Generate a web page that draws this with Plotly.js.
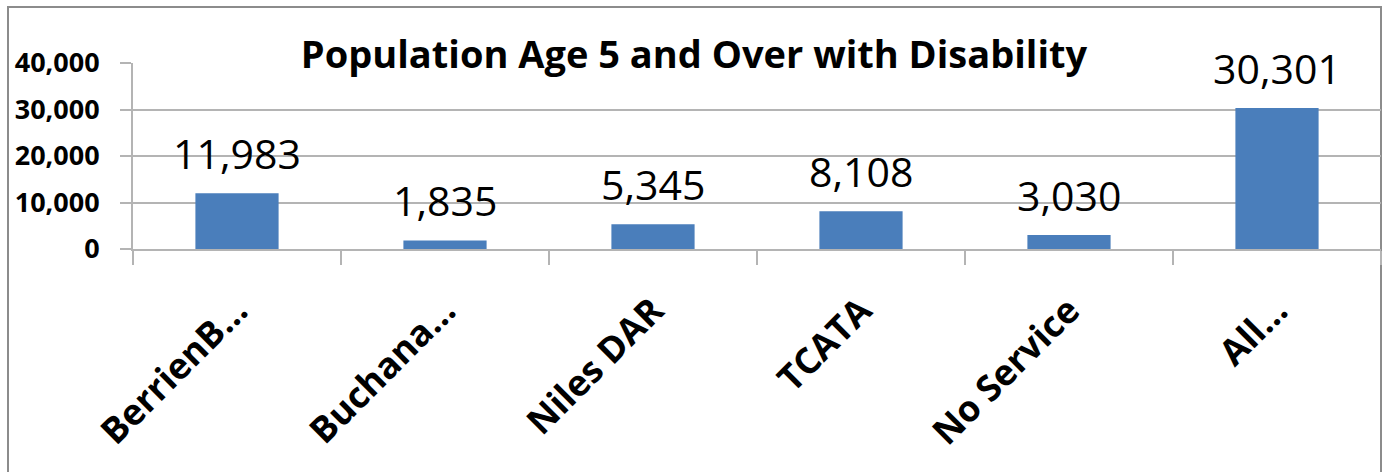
<!DOCTYPE html>
<html>
<head>
<meta charset="utf-8">
<script src="https://cdn.plot.ly/plotly-3.0.1.min.js"></script>
<style>
html,body{margin:0;padding:0;background:#fff;}
#chart{width:1388px;height:472px;}
</style>
</head>
<body>
<div id="chart"></div>
<script>
const categories = ["BerrienB\u2026", "Buchana\u2026", "Niles DAR", "TCATA", "No Service", "All\u2026"];
const values = [11983, 1835, 5345, 8108, 3030, 30301];
const valueLabels = ["11,983", "1,835", "5,345", "8,108", "3,030", "30,301"];
const yTickVals = [0, 10000, 20000, 30000, 40000];
const yTickText = ["0", "10,000", "20,000", "30,000", "40,000"];
const titleText = "Population Age 5 and Over with Disability";

const FONT = "Open Sans, Arial, sans-serif";
const GRID = "#b4b4b4";

const trace = {
  type: "bar",
  x: categories,
  y: values,
  marker: {color: "#4a7ebb"},
  hoverinfo: "x+y",
  showlegend: false
};

const annotations = categories.map((c, i) => ({
  x: c, y: values[i], xref: "x", yref: "y",
  text: valueLabels[i],
  showarrow: false,
  yanchor: "bottom",
  yshift: 10,
  font: {family: FONT, size: 41, color: "#000"}
}));

const layout = {
  width: 1388, height: 472,
  margin: {l: 133, r: 7, t: 63, b: 223},
  paper_bgcolor: "#fff",
  plot_bgcolor: "#fff",
  bargap: 0.6,
  title: {
    text: titleText,
    font: {family: FONT, size: 38, color: "#000", weight: "bold"},
    xref: "container", x: 0.5, xanchor: "center",
    yref: "container", y: 1 - 55/472, yanchor: "middle"
  },
  xaxis: {
    type: "category",
    showgrid: false,
    showline: true, linecolor: GRID, linewidth: 2,
    ticks: "outside", tickson: "boundaries", ticklen: 14, tickcolor: GRID, tickwidth: 2,
    tickangle: -45,
    ticklabelstandoff: 24,
    tickfont: {family: FONT, size: 36, color: "#000", weight: "bold"},
    fixedrange: true
  },
  yaxis: {
    range: [0, 40000],
    tickvals: yTickVals, ticktext: yTickText,
    showgrid: true, gridcolor: GRID, gridwidth: 2,
    zeroline: false,
    showline: true, linecolor: GRID, linewidth: 2,
    ticks: "outside", ticklen: 11, tickcolor: GRID, tickwidth: 2,
    ticklabelstandoff: 15,
    tickfont: {family: FONT, size: 27, color: "#000", weight: "bold"},
    fixedrange: true
  },
  annotations: annotations,
  shapes: [{
    type: "rect", xref: "paper", yref: "paper",
    x0: (8 - 133) / 1248, x1: (1381 - 133) / 1248,
    y0: (249 - 490) / 186, y1: (249 - 7) / 186,
    line: {color: "#8c8c8c", width: 2},
    fillcolor: "rgba(0,0,0,0)",
    layer: "below"
  }]
};

Plotly.newPlot("chart", [trace], layout, {displayModeBar: false, staticPlot: true});
</script>
</body>
</html>
